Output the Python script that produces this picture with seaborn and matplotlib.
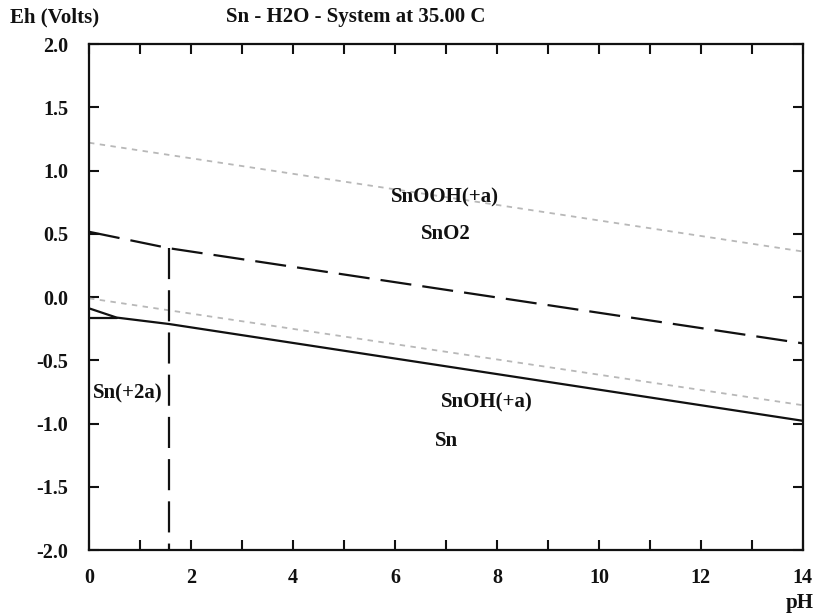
import matplotlib
matplotlib.use("Agg")
import matplotlib.pyplot as plt
import seaborn as sns
import pandas as pd
from matplotlib.ticker import MultipleLocator

# ─── Data ────────────────────────────────────────────────────────────────────
ph_ends        = [0, 14]
upper_water_eh = [1.22, 0.36]
lower_water_eh = [-0.01, -0.855]

sn2_flat_ph = [0, 0.54]
sn2_flat_eh = [-0.162, -0.162]

sn_line_ph = [0, 0.54, 1.57, 14]
sn_line_eh = [-0.089, -0.162, -0.213, -0.978]

sno2_line_ph = [0, 1.57, 14]
sno2_line_eh = [0.516, 0.386, -0.366]

vert_ph = [1.57, 1.57]
vert_eh = [0.386, -2.0]

region_names = ["SnOOH(+a)", "SnO2", "Sn(+2a)", "SnOH(+a)", "Sn"]
region_ph    = [6.98, 7.0, 0.07, 7.8, 7.01]
region_eh    = [0.79, 0.50, -0.76, -0.83, -1.14]

# ─── Style ───────────────────────────────────────────────────────────────────
sns.set_style("ticks")
plt.rcParams["font.family"] = ["Liberation Serif", "DejaVu Serif"]
plt.rcParams["font.weight"] = "bold"

fig = plt.figure(figsize=(8.13, 6.16), dpi=100)
ax = fig.add_axes([0.1095, 0.107, 0.878, 0.8215])

TXT = dict(fontsize=15, fontweight="bold", color="#111111")

# water stability lines (light grey dotted)
for eh in (upper_water_eh, lower_water_eh):
    sns.lineplot(x=ph_ends, y=eh, ax=ax, color="#b8b8b8", lw=1.3,
                 dashes=False, linestyle=(0, (3, 3)), legend=False)

# solid Sn boundaries
sns.lineplot(x=sn2_flat_ph, y=sn2_flat_eh, ax=ax, color="#111111", lw=1.6,
             sort=False, legend=False)
sns.lineplot(x=sn_line_ph, y=sn_line_eh, ax=ax, color="#111111", lw=1.6,
             sort=False, legend=False)

# dashed SnO2 boundaries
for xs, ys in ((sno2_line_ph, sno2_line_eh), (vert_ph, vert_eh)):
    df = pd.DataFrame({"pH": xs, "Eh": ys})
    ax.plot(df["pH"], df["Eh"], color="#111111", lw=1.6,
            linestyle=(0, (14, 5)))

# region labels
for name, x, y in zip(region_names, region_ph, region_eh):
    ha = "left" if name == "Sn(+2a)" else "center"
    ax.text(x, y, name, ha=ha, va="center", **TXT)

# ─── Axes ────────────────────────────────────────────────────────────────────
ax.set_xlim(0, 14)
ax.set_ylim(-2, 2)
ax.xaxis.set_major_locator(MultipleLocator(2))
ax.xaxis.set_minor_locator(MultipleLocator(1))
ax.yaxis.set_major_locator(MultipleLocator(0.5))
ax.yaxis.set_major_formatter(matplotlib.ticker.FormatStrFormatter("%.1f"))
ax.tick_params(axis="both", which="both", direction="in", length=7,
               width=1.5, top=True, right=True, labelsize=14.5,
               colors="#111111")
ax.tick_params(axis="y", pad=15)
ax.tick_params(axis="x", pad=13)
for s in ax.spines.values():
    s.set_linewidth(1.6)
    s.set_color("#111111")
ax.set_xlabel("")
ax.set_ylabel("")

fig.text(10 / 813, 1 - 17 / 616, "Eh (Volts)", ha="left", va="center", **TXT)
fig.text(356 / 813, 1 - 17 / 616, "Sn - H2O - System at 35.00 C",
         ha="center", va="center", **TXT)
fig.text(800 / 813, 1 - 603 / 616, "pH", ha="center", va="center", **TXT)

fig.savefig("out.png", dpi=100, facecolor="white")
